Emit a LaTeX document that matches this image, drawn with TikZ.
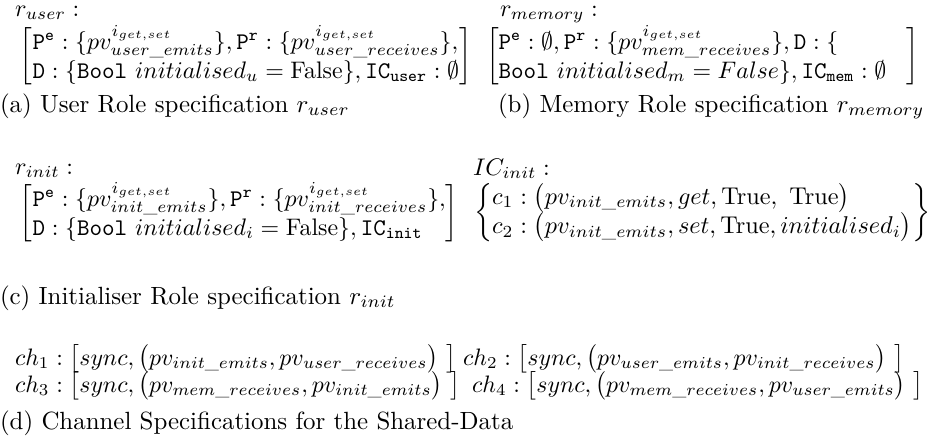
\documentclass[tikz,border=0pt]{standalone}
\usepackage{amsmath,amssymb}
\newcommand{\myPe}{\mathtt{P}^{\mathtt{e}}}
\newcommand{\myPr}{\mathtt{P}^{\mathtt{r}}}
\newcommand{\igs}{i_{get,set}}
\begin{document}
\begin{tikzpicture}[x=0.40161pt,y=-0.40161pt,
  every node/.style={inner sep=0pt, outer sep=0pt},
  tx/.style={anchor=base west},
  mt/.style={anchor=base west, scale=0.965},
  mx/.style={anchor=west, scale=0.96},
  cht/.style={anchor=base west, scale=0.955}]
\useasboundingbox (0,0) rectangle (929,446);
% (a)
\node[mt] (ruser) at (15,16) {$r_{user}:$};
\node[mx] (muser) at (20,56) {$\left[\begin{array}{@{}l@{}}
\myPe : \{pv^{\igs}_{user\_emits}\}, \myPr : \{pv^{\igs}_{user\_receives}\},\\
\mathtt{D} : \{\mathtt{Bool}\ initialised_u = \text{False}\}, \mathtt{IC}_{\mathtt{user}} : \emptyset
\end{array}\right]$};
\node[tx] (capa) at (0,112) {(a) User Role specification $r_{user}$};
% (b)
\node[mt] (rmem) at (500,16) {$r_{memory}:$};
\node[mx] (mmem) at (486,56) {$\left[\begin{array}{@{}l@{}}
\myPe : \emptyset, \myPr : \{pv^{\igs}_{mem\_receives}\}, \mathtt{D} : \{\\
\mathtt{Bool}\ initialised_m = False\}, \mathtt{IC}_{\mathtt{mem}} : \emptyset\hspace{8.5pt}
\end{array}\right]$};
\node[tx] (capb) at (498,112) {(b) Memory Role specification $r_{memory}$};
% (c)
\node[mt] (rinit) at (15,174) {$r_{init}:$};
\node[mx] (minit) at (20,213) {$\left[\begin{array}{@{}l@{}}
\myPe : \{pv^{\igs}_{init\_emits}\}, \myPr : \{pv^{\igs}_{init\_receives}\},\\
\mathtt{D} : \{\mathtt{Bool}\ initialised_i = \text{False}\}, \mathtt{IC}_{\mathtt{init}}
\end{array}\right]$};
\node[mt] (icl) at (473,175) {$IC_{init}:$};
\node[mx, scale=1.015] (icset) at (474,213) {$\left\{\begin{array}{@{}l@{}}
c_1 : \bigl(pv_{init\_emits}, get, \text{True},\ \text{True}\bigr)\\
c_2 : \bigl(pv_{init\_emits}, set, \text{True}, initialised_i\bigr)
\end{array}\right\}$};
\node[tx] (capc) at (0,304) {(c) Initialiser Role specification $r_{init}$};
% (d)
\node[cht] (ch1) at (15,365) {$ch_1 : \bigl[sync, \bigl(pv_{init\_emits}, pv_{user\_receives}\bigr)\ \bigr]$};
\node[cht] (ch2) at (463,365) {$ch_2 : \bigl[sync, \bigl(pv_{user\_emits}, pv_{init\_receives}\bigr)\ \bigr]$};
\node[cht] (ch3) at (15,392) {$ch_3 : \bigl[sync, \bigl(pv_{mem\_receives}, pv_{init\_emits}\bigr)\ \bigr]$};
\node[cht] (ch4) at (472,392) {$ch_4 : \bigl[sync, \bigl(pv_{mem\_receives}, pv_{user\_emits}\bigr)\ \bigr]$};
\node[tx] (capd) at (0,429) {(d) Channel Specifications for the Shared-Data};
\end{tikzpicture}
\end{document}
